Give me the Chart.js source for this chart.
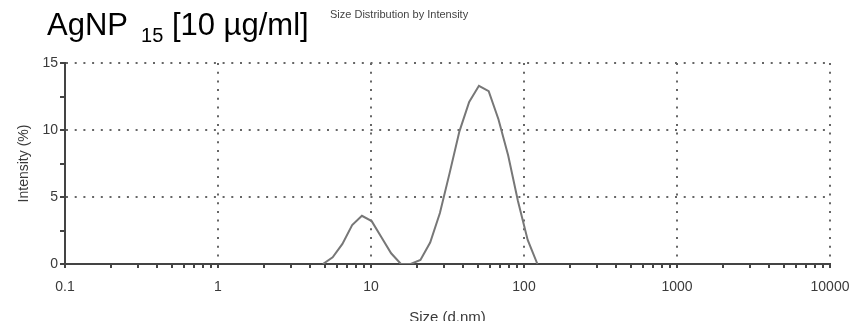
<!doctype html>
<html lang="en">
<head>
<meta charset="utf-8">
<title>Size Distribution by Intensity</title>
<script src="https://cdn.jsdelivr.net/npm/chart.js@4/dist/chart.umd.min.js"></script>
<style>
  html, body { margin: 0; padding: 0; background: #fff; overflow: hidden; }
  #wrap { position: relative; width: 853px; height: 335px; }
  #title { position: absolute; left: 47px; top: 10px; font: 31px/30px "Liberation Sans", Arial, sans-serif; color: #000; white-space: nowrap; }
  #title sub { font-size: 20px; vertical-align: -7px; line-height: 0; margin-left: 5px; }
  #subtitle { position: absolute; left: 330px; top: 9px; font: 11px/11px "Liberation Sans", Arial, sans-serif; color: #444; white-space: nowrap; }
</style>
</head>
<body>
<div id="wrap">
  <canvas id="chart" width="853" height="335"></canvas>
  <div id="title">AgNP <sub>15</sub> [10 &micro;g/ml]</div>
  <div id="subtitle">Size Distribution by Intensity</div>
</div>
<script>
// tamaños (d.nm) e intensidad (%)
var sizes = [4.849, 5.615, 6.503, 7.531, 8.721, 10.1, 11.7, 13.54, 15.69, 18.17,
             21.04, 24.36, 28.21, 32.67, 37.84, 43.82, 50.75, 58.77, 68.06, 78.82,
             91.28, 105.7, 122.4];
var intensity = [0, 0.5, 1.5, 2.9, 3.6, 3.2, 2.0, 0.8, 0, 0,
                 0.3, 1.6, 3.8, 6.8, 9.9, 12.1, 13.3, 12.9, 10.8, 8.1,
                 4.7, 1.8, 0];
var xTickLabels = ['0.1', '1', '10', '100', '1000', '10000'];
var yTickLabels = ['0', '5', '10', '15'];

function isDecade(v) {
    var l = Math.log10(v);
    return Math.abs(l - Math.round(l)) < 1e-9;
}

var puntos = [];
for (var i = 0; i < sizes.length; i++) {
    puntos.push({ x: sizes[i], y: intensity[i] });
}

var fuente = { family: '"Liberation Sans", Arial, sans-serif', size: 14 };

new Chart(document.getElementById('chart').getContext('2d'), {
    type: 'line',
    data: {
        datasets: [{
            label: 'Intensity',
            data: puntos,
            borderColor: '#777',
            borderWidth: 2,
            pointRadius: 0,
            tension: 0,
            fill: false
        }]
    },
    options: {
        responsive: false,
        animation: false,
        devicePixelRatio: 1,
        layout: { padding: { top: 63, right: 23, left: 0, bottom: 0 } },
        plugins: { legend: { display: false }, tooltip: { enabled: false } },
        scales: {
            x: {
                type: 'logarithmic',
                min: Number(xTickLabels[0]),
                max: Number(xTickLabels[xTickLabels.length - 1]),
                afterBuildTicks: function (s) {
                    var t = [];
                    for (var d = 0; d < xTickLabels.length; d++) {
                        var base = Number(xTickLabels[d]);
                        t.push({ value: base });
                        if (d < xTickLabels.length - 1) {
                            for (var m = 2; m <= 9; m++) t.push({ value: base * m });
                        }
                    }
                    s.ticks = t;
                },
                afterFit: function (s) {
                    s.height = 71;
                    s.paddingLeft = 0;
                    s.paddingRight = 0;
                },
                ticks: {
                    autoSkip: false,
                    maxRotation: 0,
                    minRotation: 0,
                    padding: 11,
                    color: '#3a3a3a',
                    font: fuente,
                    callback: function (v) {
                        if (!isDecade(v)) return '';
                        var idx = Math.round(Math.log10(v)) + 1;
                        return xTickLabels[idx];
                    }
                },
                grid: {
                    lineWidth: 2,
                    color: function (c) {
                        return c.tick && isDecade(c.tick.value) && c.tick.value > 0.1 ? '#666' : 'rgba(0,0,0,0)';
                    },
                    tickColor: '#444',
                    tickWidth: 2,
                    tickLength: 4,
                    tickBorderDash: []
                },
                border: { display: true, color: '#444', width: 2, dash: [2, 6.7] },
                title: {
                    display: true,
                    text: 'Size (d.nm)',
                    color: '#3a3a3a',
                    font: { family: fuente.family, size: 15 },
                    padding: { top: 0, bottom: 8 }
                }
            },
            y: {
                min: 0,
                max: 15,
                afterBuildTicks: function (s) {
                    var t = [];
                    for (var v = 0; v <= 15; v += 2.5) t.push({ value: v });
                    s.ticks = t;
                },
                afterFit: function (s) { s.width = 65; },
                ticks: {
                    autoSkip: false,
                    padding: 2,
                    color: '#3a3a3a',
                    font: fuente,
                    callback: function (v) {
                        return yTickLabels.indexOf(String(v)) >= 0 ? String(v) : '';
                    }
                },
                grid: {
                    lineWidth: 2,
                    color: function (c) {
                        return c.tick && c.tick.value > 0 && c.tick.value % 5 === 0 ? '#666' : 'rgba(0,0,0,0)';
                    },
                    tickColor: '#444',
                    tickWidth: 2,
                    tickLength: 5,
                    tickBorderDash: []
                },
                border: { display: true, color: '#444', width: 2, dash: [2, 6.7] },
                title: {
                    display: true,
                    text: 'Intensity (%)',
                    color: '#3a3a3a',
                    font: { family: fuente.family, size: 14 },
                    padding: { top: 16, bottom: 0 }
                }
            }
        }
    }
});
</script>
</body>
</html>
